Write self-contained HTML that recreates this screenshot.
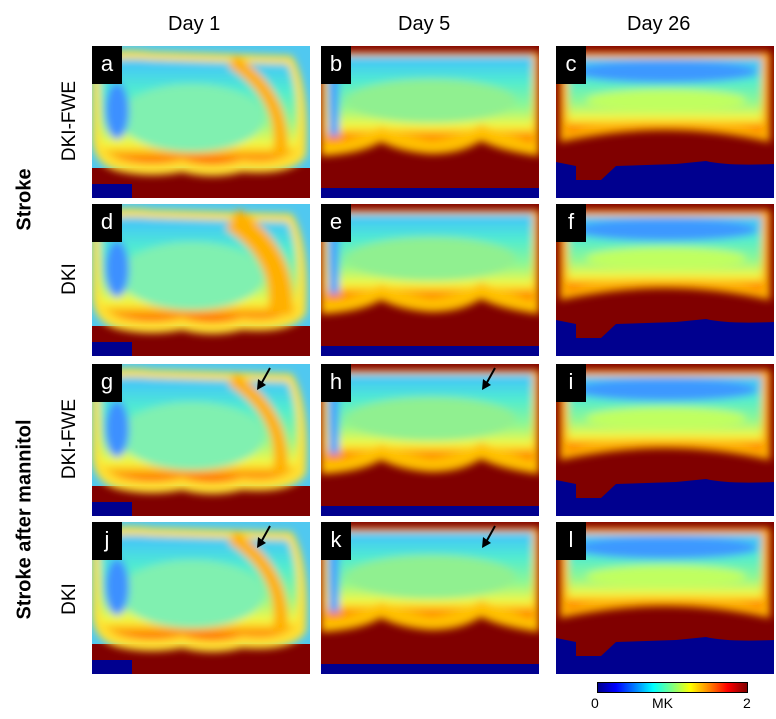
<!DOCTYPE html>
<html><head><meta charset="utf-8"><style>
body{margin:0;background:#fff;width:776px;height:719px;position:relative;overflow:hidden;font-family:"Liberation Sans",sans-serif}
.t{position:absolute;font-size:20px;color:#000}
.rl{position:absolute;font-size:19px;transform:rotate(-90deg);transform-origin:center;white-space:nowrap;text-align:center}
.p{position:absolute;width:218px;height:152px;overflow:hidden}
.lb{position:absolute;left:0;top:0;width:30px;height:38px;background:#000;color:#fff;font-size:22px;text-align:center;line-height:36px}
</style></head><body>
<div class="t" style="left:168px;top:13px">Day 1</div>
<div class="t" style="left:398px;top:13px">Day 5</div>
<div class="t" style="left:627px;top:13px">Day 26</div>
<div class="rl" style="left:20px;top:110px;width:100px">DKI-FWE</div>
<div class="rl" style="left:20px;top:268px;width:100px">DKI</div>
<div class="rl" style="left:20px;top:428px;width:100px">DKI-FWE</div>
<div class="rl" style="left:20px;top:588px;width:100px">DKI</div>
<div class="rl" style="left:-35px;top:188px;width:120px;font-weight:bold;font-size:20px">Stroke</div>
<div class="rl" style="left:-95px;top:508px;width:240px;font-weight:bold;font-size:20px">Stroke after mannitol</div>
<div id="panels"></div>
<div style="position:absolute;left:597px;top:682px;width:151px;height:11px;border:1px solid #000;box-sizing:border-box;background:linear-gradient(90deg,#00008f,#0000ff 12%,#0080ff 25%,#00ffff 37%,#80ff80 50%,#ffff00 62%,#ff8000 75%,#ff0000 87%,#800000)"></div>
<div class="t" style="left:591px;top:695px;font-size:14px">0</div>
<div class="t" style="left:652px;top:695px;font-size:14px">MK</div>
<div class="t" style="left:743px;top:695px;font-size:14px">2</div>
<script>
const letters=['a','b','c','d','e','f','g','h','i','j','k','l'];
const colX=[92,321,556];
const rowY=[46,204,364,522];
const arrows=[6,7,9,10];
const cont=document.getElementById('panels');
function svgFor(col,i){
  const id='g'+i;
  let s=`<svg width="218" height="152" viewBox="0 0 218 152"><defs>
  <linearGradient id="${id}" x1="0" y1="0" x2="0" y2="1">
  <stop offset="0" stop-color="#40c0ff"/><stop offset="0.3" stop-color="#50ecd0"/>
  <stop offset="0.6" stop-color="#90f890"/><stop offset="0.82" stop-color="#f8f840"/>
  <stop offset="0.92" stop-color="#ffa000"/><stop offset="1" stop-color="#ff3000"/></linearGradient>
  <filter id="b${i}"><feGaussianBlur stdDeviation="4"/></filter></defs>`;
  if(col===0){
    s+=`<rect width="218" height="152" fill="#50c8f0"/>
    <rect y="122" width="218" height="30" fill="#800000"/>
    <rect y="138" width="40" height="14" fill="#00008f"/>
    <g filter="url(#b${i})"><path d="M0 20 Q5 0 60 6 L200 10 Q218 40 214 110 Q200 130 150 126 Q120 134 90 126 Q60 132 30 126 Q0 120 0 90 Z" fill="#ffe030"/>
    <path d="M8 24 Q10 10 60 14 L196 18 Q210 50 204 104 Q190 118 150 114 Q120 122 90 114 Q60 120 30 114 Q8 108 8 90 Z" fill="url(#${id})"/>
    <ellipse cx="100" cy="72" rx="72" ry="34" fill="#80f0b0"/>
    <ellipse cx="25" cy="65" rx="12" ry="28" fill="#3c90ff"/>
    <path d="M140 15 Q195 50 188 110" stroke="#ffb000" stroke-width="${i===3?24:14}" fill="none"/></g>`;
  }else if(col===1){
    s+=`<rect width="218" height="152" fill="#800000"/>
    <rect y="142" width="218" height="10" fill="#00008f"/>
    <g filter="url(#b${i})"><path d="M0 6 H218 V110 Q180 105 160 95 Q140 108 110 108 Q80 106 60 96 Q40 108 0 110 Z" fill="#ffc000"/>
    <path d="M6 10 H212 V96 Q180 88 160 78 Q140 92 110 94 Q80 90 60 80 Q40 94 6 96 Z" fill="url(#${id})"/>
    <ellipse cx="110" cy="55" rx="85" ry="22" fill="#90f090"/>
    <rect x="8" y="30" width="10" height="60" fill="#40a0ff"/></g>`;
  }else{
    s+=`<rect width="218" height="152" fill="#00008f"/>
    <path d="M0 0 H218 V118 Q170 120 150 115 L120 118 L60 120 L45 134 L20 134 L20 120 L0 116 Z" fill="#800000"/>
    <g filter="url(#b${i})"><path d="M4 6 H214 V96 Q160 84 110 84 Q60 84 4 96 Z" fill="#ffb000"/>
    <path d="M12 12 H206 V86 Q160 74 110 76 Q60 74 12 86 Z" fill="url(#${id})"/>
    <ellipse cx="110" cy="26" rx="92" ry="11" fill="#3c98ff"/>
    <ellipse cx="110" cy="54" rx="80" ry="11" fill="#c0ff60"/></g>`;
  }
  if(arrows.includes(i)){
    const ax=col===0?168:164;
    s+=`<line x1="${ax+10}" y1="4" x2="${ax}" y2="22" stroke="#000" stroke-width="2"/><path d="M${ax-3} 26 L${ax-2} 15 L${ax+6} 21 Z" fill="#000"/>`;
  }
  return s+'</svg>';
}
for(let r=0;r<4;r++)for(let c=0;c<3;c++){
  const i=r*3+c;
  const d=document.createElement('div');
  d.className='p';
  d.style.left=colX[c]+'px';d.style.top=rowY[r]+'px';
  
  
  d.innerHTML=svgFor(c,i)+'<div class="lb">'+letters[i]+'</div>';
  cont.appendChild(d);
}
</script>
</body></html>
